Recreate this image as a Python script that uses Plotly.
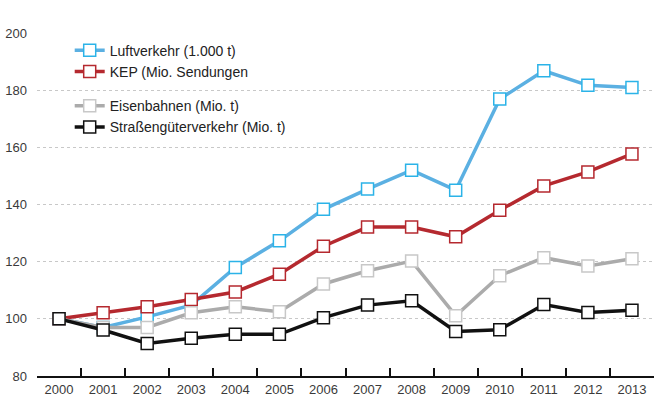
import plotly.graph_objects as go

years = [str(y) for y in range(2000, 2014)]
luft = [100, 97, 100.7, 104.8, 118, 127.3, 138.3, 145.4, 152, 145, 176.9, 186.8, 181.7, 180.9]
kep = [100, 102.1, 104.2, 106.8, 109.4, 115.6, 125.4, 132.1, 132.1, 128.7, 138, 146.5, 151.4, 157.7]
eisen = [100, 97, 97, 102.1, 104.2, 102.5, 112.2, 116.8, 120.2, 101.1, 115.1, 121.4, 118.5, 121]
strasse = [100, 96.1, 91.4, 93.2, 94.6, 94.6, 100.4, 104.8, 106.3, 95.6, 96.2, 105, 102.2, 103]

names = ["Luftverkehr (1.000 t)", "KEP (Mio. Sendungen", "Eisenbahnen (Mio. t)", "Straßengüterverkehr (Mio. t)"]
line_colors = ["#5BB0E2", "#B5292F", "#ABABAB", "#111111"]
marker_colors = ["#2BB3E8", "#B5292F", "#C8C8C8", "#111111"]
groups = ["a", "a", "b", "b"]
series = [luft, kep, eisen, strasse]

fig = go.Figure()
for name, vals, lc, mc, g in zip(names, series, line_colors, marker_colors, groups):
    fig.add_trace(go.Scatter(
        x=years, y=vals, name=name, mode="lines+markers", legendgroup=g,
        line=dict(color=lc, width=3.5),
        marker=dict(symbol="square", size=12, color="white", line=dict(color=mc, width=1.5)),
    ))

fig.update_layout(
    width=661, height=411,
    margin=dict(l=37, r=7, t=33, b=35),
    paper_bgcolor="white", plot_bgcolor="white",
    font=dict(family="Liberation Sans, Arial, sans-serif", size=13, color="#3a3a3a"),
    showlegend=True,
    legend=dict(x=0.053, y=0.995, xanchor="left", yanchor="top", traceorder="grouped",
                tracegroupgap=13, font=dict(size=14, color="#222222"), bgcolor="rgba(0,0,0,0)"),
    xaxis=dict(type="category", tickson="boundaries", ticks="inside", ticklen=8, tickwidth=1.5,
               tickcolor="#111111", showline=True, linecolor="#111111", linewidth=2,
               showgrid=False, range=[-0.5, 13.5], automargin=False,
               tickfont=dict(size=13, color="#3a3a3a")),
    yaxis=dict(range=[80, 200], dtick=20, showgrid=True, gridcolor="#C8C8C8", griddash="dot",
               gridwidth=1, zeroline=False, showline=False, ticks="", ticklabelstandoff=9,
               automargin=False, tickfont=dict(size=13, color="#3a3a3a")),
)

fig.write_html("out.html", config={"displayModeBar": False},
               post_script="document.body.style.margin='0';document.body.style.overflow='hidden';")
